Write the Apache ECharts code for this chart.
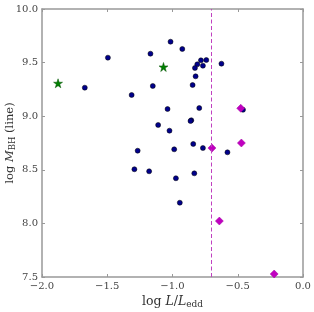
<!DOCTYPE html>
<html>
<head>
<meta charset="utf-8">
<script src="https://cdn.jsdelivr.net/npm/echarts@6/dist/echarts.min.js"></script>
<style>html,body{margin:0;padding:0;background:#fff}#c{width:314px;height:312px}</style>
</head>
<body>
<div id="c"></div>
<script>
// Data
const dotsX = [-1.015,-1.169,-1.495,-1.672,-1.151,-1.313,-1.038,-1.110,-1.023,-0.925,-0.782,-0.741,-0.810,-0.767,-0.828,-0.625,-0.823,-0.846,-0.795,-0.460,-0.856,-0.862,-1.267,-0.987,-1.292,-1.179,-0.974,-0.944,-0.841,-0.767,-0.579,-0.833];
const dotsY = [9.695,9.583,9.546,9.266,9.282,9.198,9.067,8.918,8.865,9.627,9.521,9.524,9.484,9.471,9.450,9.490,9.372,9.291,9.076,9.060,8.962,8.955,8.678,8.691,8.505,8.486,8.421,8.193,8.741,8.703,8.663,8.467];
const starsX = [-1.877,-1.069];
const starsY = [9.307,9.459];
const diamondsX = [-0.477,-0.698,-0.472,-0.641,-0.221];
const diamondsY = [9.074,8.703,8.750,8.022,7.528];
const dashedX = -0.7;
const xTicks = [-2.0,-1.5,-1.0,-0.5,0.0];
const yTicks = [7.5,8.0,8.5,9.0,9.5,10.0];

const zip = (a,b) => a.map((v,i)=>[v,b[i]]);
const fmt = v => (v < 0 ? '\u2212' : '') + Math.abs(v).toFixed(1);
const serif = 'DejaVu Serif';
const axisCol = '#999';
const baseAxis = {
  axisLine:{show:true,onZero:false,lineStyle:{color:axisCol,width:1.5}},
  axisTick:{show:true,inside:true,length:3,lineStyle:{color:axisCol,width:1}},
  splitLine:{show:false}
};
const mkRich = (fs, ss) => ({
  n:{fontFamily:serif,fontSize:fs,color:'#333'},
  i:{fontFamily:serif,fontStyle:'italic',fontSize:fs,color:'#333'},
  s:{fontFamily:serif,fontSize:ss,color:'#333',padding:[5,0,0,0]}
});
const chart = echarts.init(document.getElementById('c'));
chart.setOption({
  animation:false,
  grid:{left:42,right:11,top:9,bottom:35,containLabel:false,outerBoundsMode:'none'},
  xAxis:[
    Object.assign({type:'value',min:xTicks[0],max:xTicks[xTicks.length-1],interval:0.5,position:'bottom',
      axisLabel:{formatter:fmt,fontFamily:serif,fontSize:10,color:'#444',margin:4},
      name:'{n|log }{i|L}{n|/}{i|L}{s|edd}',nameLocation:'middle',nameGap:18,nameMoveOverlap:false,
      nameTextStyle:{rich:mkRich(12.5,9)}},baseAxis),
    Object.assign({type:'value',min:xTicks[0],max:xTicks[xTicks.length-1],interval:0.5,position:'top',
      axisLabel:{show:false}},baseAxis)
  ],
  yAxis:[
    Object.assign({type:'value',min:yTicks[0],max:yTicks[yTicks.length-1],interval:0.5,position:'left',
      axisLabel:{formatter:v=>v.toFixed(1),fontFamily:serif,fontSize:10,color:'#444',margin:4},
      name:'{n|log }{i|M}{s|BH}{n| (line)}',nameLocation:'middle',nameGap:25,nameRotate:90,nameMoveOverlap:false,
      nameTextStyle:{rich:mkRich(11.5,8.5)}},baseAxis),
    Object.assign({type:'value',min:yTicks[0],max:yTicks[yTicks.length-1],interval:0.5,position:'right',
      axisLabel:{show:false}},baseAxis)
  ],
  series:[
    {type:'scatter',data:zip(dotsX,dotsY),symbol:'circle',symbolSize:5,
      itemStyle:{color:'#00008b',borderColor:'#000',borderWidth:0.5,opacity:1},
      markLine:{silent:true,symbol:'none',label:{show:false},
        lineStyle:{color:'#c040c0',type:[4,2.5],width:1,opacity:1},
        emphasis:{disabled:true},
        data:[{xAxis:dashedX,lineStyle:{color:'#c040c0'}}]}},
    {type:'scatter',data:zip(starsX,starsY),
      symbol:'path://M50,0 L61.2,34.5 L97.6,34.5 L68.2,55.9 L79.4,90.5 L50,69.1 L20.6,90.5 L31.8,55.9 L2.4,34.5 L38.8,34.5 Z',
      symbolSize:9,itemStyle:{color:'#008000',borderColor:'#005000',borderWidth:0.5,opacity:1}},
    {type:'scatter',data:zip(diamondsX,diamondsY),symbol:'diamond',symbolSize:[8,8],
      itemStyle:{color:'#c000c0',borderColor:'#a000a0',borderWidth:0.5,opacity:1}}
  ]
});
</script>
</body>
</html>
